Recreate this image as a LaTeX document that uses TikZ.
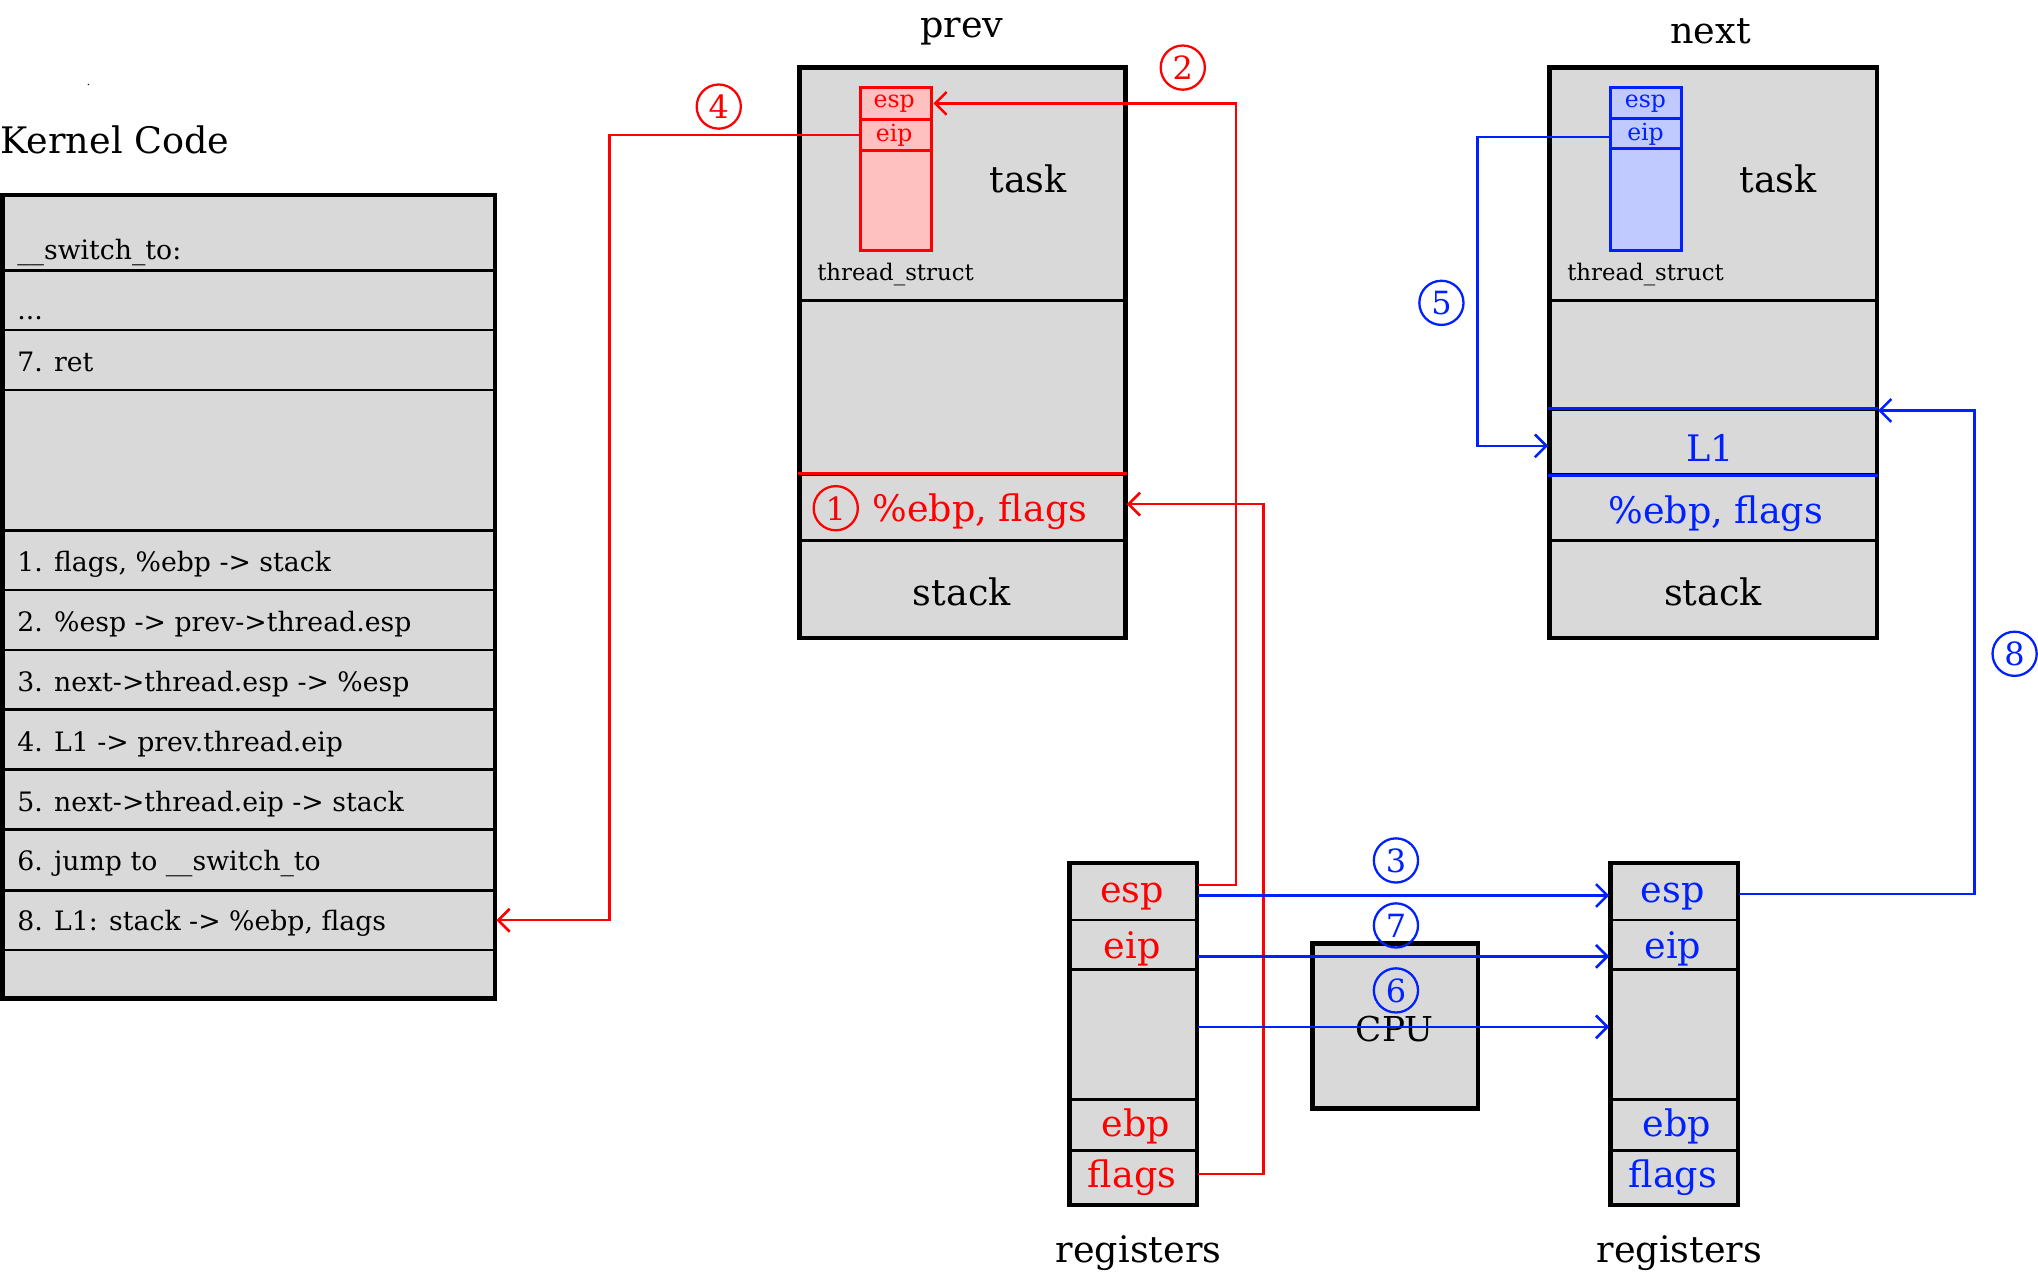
\documentclass[tikz,border=0pt]{standalone}
\usepackage{fontspec}
\setmainfont{DejaVu Serif}
\usetikzlibrary{fit,arrows.meta}
\definecolor{boxgray}{HTML}{D9D9D9}
\definecolor{pinkfill}{HTML}{FFC0C0}
\definecolor{bluefill}{HTML}{C0CAFF}
\definecolor{myred}{HTML}{FF0000}
\definecolor{myblue}{HTML}{0020FF}
\begin{document}
\begin{tikzpicture}[x=0.02cm,y=-0.02cm,
  cell/.style={draw=black, line width=1.1pt, fill=boxgray, inner sep=0pt},
  outer/.style={draw=black, line width=2pt, inner sep=0pt},
  tsred/.style={draw=myred, line width=1.3pt, fill=pinkfill, inner sep=0pt},
  tsblue/.style={draw=myblue, line width=1.3pt, fill=bluefill, inner sep=0pt},
  ktext/.style={anchor=base west, inner sep=0pt, font=\fontsize{11.7}{12}\selectfont},
  big/.style={inner sep=0pt, font=\fontsize{16}{16}\selectfont},
  small/.style={inner sep=0pt, font=\fontsize{10.3}{10.3}\selectfont},
  tstext/.style={inner sep=0pt, font=\fontsize{10}{10}\selectfont},
  circnum/.style={circle, draw, line width=1pt, minimum size=0.68cm, inner sep=0pt, font=\fontsize{14}{14}\selectfont},
  redarr/.style={draw=myred, line width=1.1pt, -{Straight Barb[length=5pt,width=10pt]}},
  bluearr/.style={draw=myblue, line width=1.1pt, -{Straight Barb[length=5pt,width=10pt]}},
  redline/.style={draw=myred, line width=1.2pt},
  blueline/.style={draw=myblue, line width=1.2pt}]
\useasboundingbox (0,0) rectangle (1568,981);

\fill (68,65) circle (0.6);

% ---------------- Kernel code ----------------
\node[big, anchor=base west] (ktitle) at (0,118) {Kernel Code};
\node[cell, fit={(2,150) (381,208)}] (k0) {};
\node[cell, fit={(2,208) (381,254)}] (k1) {};
\node[cell, fit={(2,254) (381,300)}] (k2) {};
\node[cell, fit={(2,300) (381,408)}] (k3) {};
\node[cell, fit={(2,408) (381,454)}] (k4) {};
\node[cell, fit={(2,454) (381,500)}] (k5) {};
\node[cell, fit={(2,500) (381,546)}] (k6) {};
\node[cell, fit={(2,546) (381,592)}] (k7) {};
\node[cell, fit={(2,592) (381,638)}] (k8) {};
\node[cell, fit={(2,638) (381,685)}] (k9) {};
\node[cell, fit={(2,685) (381,731)}] (k10) {};
\node[cell, fit={(2,731) (381,768)}] (k11) {};
\node[outer, fit={(2,150) (381,768)}] (kernel) {};
\node[ktext] (t0) at (13,200) {\_\_switch\_to:};
\node[ktext] (t1) at (13,246) {...};
\node[ktext] (t2) at (13,286) {7. ret};
\node[ktext] (t4) at (13,440) {1. flags, \%ebp -> stack};
\node[ktext] (t5) at (13,486) {2. \%esp -> prev->thread.esp};
\node[ktext] (t6) at (13,532) {3. next->thread.esp -> \%esp};
\node[ktext] (t7) at (13,578) {4. L1 -> prev.thread.eip};
\node[ktext] (t8) at (13,624) {5. next->thread.eip -> stack};
\node[ktext] (t9) at (13,670) {6. jump to \_\_switch\_to};
\node[ktext] (t10) at (13,716) {8. L1: stack -> \%ebp, flags};

% ---------------- prev ----------------
\node[big] (prevt) at (740,24) {prev};
\node[cell, fit={(615,52) (866,231)}] (p0) {};
\node[cell, fit={(615,231) (866,365)}] (p1) {};
\node[cell, fit={(615,365) (866,416)}] (p2) {};
\node[cell, fit={(615,416) (866,491)}] (p3) {};
\node[outer, fit={(615,52) (866,491)}] (prevbox) {};
\draw[redline] (p2.north west) -- (p2.north east);
\node[tsred, fit={(662,67) (717,92)}] (pesp) {};
\node[tsred, fit={(662,92) (717,116)}] (peip) {};
\node[tsred, fit={(662,116) (717,193)}] (prest) {};
\node[small, text=myred] at (688,80) {esp};
\node[small, text=myred] at (688,104) {eip};
\node[big] (ptask) at (791,138) {task};
\node[tstext] (pts) at (689,211) {thread\_struct};
\node[circnum, draw=myred, text=myred] (c1) at (643,391) {1};
\node[big, text=myred, anchor=west] (pflags) at (671,394) {\%ebp, flags};
\node[big] (pstack) at (740,455) {stack};

% ---------------- next ----------------
\node[big] (nextt) at (1316,24) {next};
\node[cell, fit={(1192,52) (1444,231)}] (n0) {};
\node[cell, fit={(1192,231) (1444,315)}] (n1) {};
\node[cell, fit={(1192,315) (1444,365)}] (n2) {};
\node[cell, fit={(1192,365) (1444,416)}] (n3) {};
\node[cell, fit={(1192,416) (1444,491)}] (n4) {};
\node[outer, fit={(1192,52) (1444,491)}] (nextbox) {};
\draw[blueline] (n2.north west) -- (n2.north east);
\draw[blueline] (n2.south west) -- (n2.south east);
\node[tsblue, fit={(1239,67) (1294,91)}] (nesp) {};
\node[tsblue, fit={(1239,91) (1294,114)}] (neip) {};
\node[tsblue, fit={(1239,114) (1294,193)}] (nrest) {};
\node[small, text=myblue] at (1266,80) {esp};
\node[small, text=myblue] at (1266,103) {eip};
\node[big] (ntask) at (1368,138) {task};
\node[tstext] (nts) at (1266,211) {thread\_struct};
\node[big, text=myblue] (nl1) at (1316,345) {L1};
\node[big, text=myblue] (nflags) at (1320,395) {\%ebp, flags};
\node[big] (nstack) at (1318,455) {stack};

% ---------------- registers ----------------
\node[cell, fit={(823,664) (921,708)}] (lesp) {};
\node[cell, fit={(823,708) (921,746)}] (leip) {};
\node[cell, fit={(823,746) (921,846)}] (lmid) {};
\node[cell, fit={(823,846) (921,885)}] (lebp) {};
\node[cell, fit={(823,885) (921,927)}] (lflags) {};
\node[outer, fit={(823,664) (921,927)}] (lregs) {};
\node[big, text=myred] at (871,690) {esp};
\node[big, text=myred] at (871,730) {eip};
\node[big, text=myred] at (874,867) {ebp};
\node[big, text=myred] at (871,906) {flags};
\node[big] (lregt) at (876,964) {registers};

\node[cell, fit={(1239,664) (1337,708)}] (resp) {};
\node[cell, fit={(1239,708) (1337,746)}] (reip) {};
\node[cell, fit={(1239,746) (1337,846)}] (rmid) {};
\node[cell, fit={(1239,846) (1337,885)}] (rebp) {};
\node[cell, fit={(1239,885) (1337,927)}] (rflags) {};
\node[outer, fit={(1239,664) (1337,927)}] (rregs) {};
\node[big, text=myblue] at (1287,690) {esp};
\node[big, text=myblue] at (1287,730) {eip};
\node[big, text=myblue] at (1290,867) {ebp};
\node[big, text=myblue] at (1287,906) {flags};
\node[big] (rregt) at (1292,964) {registers};

\node[cell, line width=2pt, fit={(1010,726) (1137,853)}] (cpu) {};
\node[big, font=\fontsize{15}{15}\selectfont] (cput) at (1073,792) {CPU};

% ---------------- red arrows ----------------
\draw[redarr] ([yshift=3pt]lesp.east) -- ++(29,0) |- (pesp.east);
\draw[redarr] ([yshift=1.5pt]lflags.east) -- ++(50,0) |- ([yshift=1.5pt]p2.east);
\draw[redarr] (peip.west) -- ++(-192,0) |- (k10.east);
\node[circnum, draw=myred, text=myred] (c2) at (910,52) {2};
\node[circnum, draw=myred, text=myred] (c4) at (553,82) {4};

% ---------------- blue arrows ----------------
\draw[bluearr] ([yshift=-1.7pt]lesp.east) -- ([yshift=-1.7pt]resp.west);
\draw[bluearr] ([yshift=-5pt]leip.east) -- ([yshift=-5pt]reip.west);
\draw[bluearr] ([yshift=3.4pt]lmid.east) -- ([yshift=3.4pt]rmid.west);
\draw[bluearr] ([yshift=-1.7pt]neip.west) -- ++(-101,0) |- ([yshift=-1.7pt]n2.west);
\draw[bluearr] ([yshift=-1pt]resp.east) -- ++(181,0) |- ([yshift=-1pt]n2.north east);
\node[circnum, draw=myblue, text=myblue] (c3) at (1074,662) {3};
\node[circnum, draw=myblue, text=myblue] (c7) at (1074,712) {7};
\node[circnum, draw=myblue, text=myblue] (c6) at (1074,762) {6};
\node[circnum, draw=myblue, text=myblue] (c5) at (1109,233) {5};
\node[circnum, draw=myblue, text=myblue] (c8) at (1550,503) {8};
\end{tikzpicture}
\end{document}
